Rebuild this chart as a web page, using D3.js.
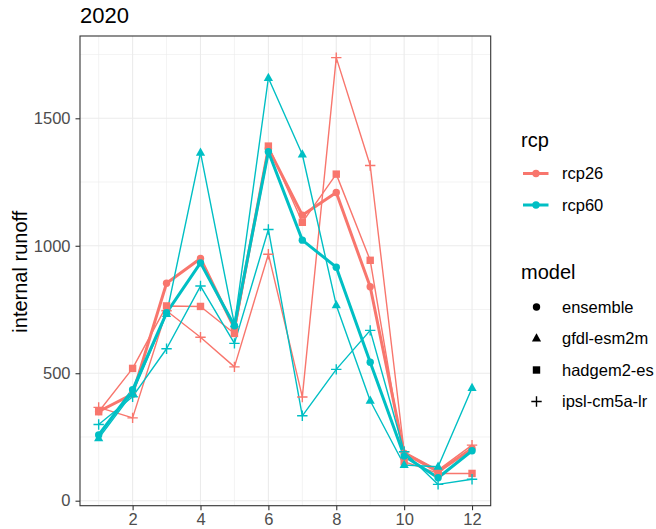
<!DOCTYPE html>
<html>
<head>
<meta charset="utf-8">
<script src="https://cdn.jsdelivr.net/npm/d3@7"></script>
<style>
  html, body { margin: 0; padding: 0; background: #fff; }
  svg { display: block; font-family: "Liberation Sans", Arial, sans-serif; }
</style>
</head>
<body>
<svg id="chart" width="656" height="529"></svg>
<script>
// Monthly internal runoff, 2020, per scenario and climate model
const months = [1, 2, 3, 4, 5, 6, 7, 8, 9, 10, 11, 12];
const rcp26Ensemble = [350, 418, 853, 950, 676, 1382, 1120, 1209, 839, 186, 114, 205];
const rcp26Hadgem   = [349, 519, 764, 762, 656, 1391, 1092, 1281, 943, 153, 107, 107];
const rcp26Ipsl     = [366, 325, 745, 641, 525, 967, 407, 1738, 1315, 192, 120, 218];
const rcp60Ensemble = [258, 435, 737, 933, 686, 1369, 1022, 916, 543, 175, 90, 196];
const rcp60Gfdl     = [245, 422, 732, 1365, 692, 1658, 1358, 767, 392, 140, 133, 442];
const rcp60Ipsl     = [299, 408, 596, 842, 617, 1064, 333, 515, 668, 192, 64, 84];
const xTicks = [2, 4, 6, 8, 10, 12];
const yTicks = [0, 500, 1000, 1500];
const rcpLevels = ["rcp26", "rcp60"];
const modelLevels = ["ensemble", "gfdl-esm2m", "hadgem2-es", "ipsl-cm5a-lr"];

const series = [
  { rcp: "rcp26", model: "ensemble",     values: rcp26Ensemble },
  { rcp: "rcp26", model: "hadgem2-es",   values: rcp26Hadgem },
  { rcp: "rcp26", model: "ipsl-cm5a-lr", values: rcp26Ipsl },
  { rcp: "rcp60", model: "ensemble",     values: rcp60Ensemble },
  { rcp: "rcp60", model: "gfdl-esm2m",   values: rcp60Gfdl },
  { rcp: "rcp60", model: "ipsl-cm5a-lr", values: rcp60Ipsl }
];

const color = d3.scaleOrdinal().domain(rcpLevels).range(["#F8766D", "#00BFC4"]);

const panel = { left: 80, right: 490.7, top: 36, bottom: 505.7 };
const x = d3.scaleLinear().domain([0.45, 12.55]).range([panel.left, panel.right]);
const y = d3.scaleLinear().domain([-19.6, 1822.8]).range([panel.bottom, panel.top]);

const svg = d3.select("#chart");

// panel background and grid
svg.append("rect")
  .attr("x", panel.left).attr("y", panel.top)
  .attr("width", panel.right - panel.left).attr("height", panel.bottom - panel.top)
  .attr("fill", "#fff");

const grid = svg.append("g");
const yMinor = [250, 750, 1250, 1750];
const xMinor = [1, 3, 5, 7, 9, 11];
grid.selectAll(".ymin").data(yMinor).join("line")
  .attr("x1", panel.left).attr("x2", panel.right)
  .attr("y1", d => y(d)).attr("y2", d => y(d))
  .attr("stroke", "#EBEBEB").attr("stroke-width", 0.6);
grid.selectAll(".xmin").data(xMinor).join("line")
  .attr("y1", panel.top).attr("y2", panel.bottom)
  .attr("x1", d => x(d)).attr("x2", d => x(d))
  .attr("stroke", "#EBEBEB").attr("stroke-width", 0.6);
grid.selectAll(".ymaj").data(yTicks).join("line")
  .attr("x1", panel.left).attr("x2", panel.right)
  .attr("y1", d => y(d)).attr("y2", d => y(d))
  .attr("stroke", "#EBEBEB").attr("stroke-width", 1.1);
grid.selectAll(".xmaj").data(xTicks).join("line")
  .attr("y1", panel.top).attr("y2", panel.bottom)
  .attr("x1", d => x(d)).attr("x2", d => x(d))
  .attr("stroke", "#EBEBEB").attr("stroke-width", 1.1);

// lines
const line = d3.line().x((d, i) => x(months[i])).y(d => y(d));
const plot = svg.append("g");
plot.selectAll("path.series").data(series).join("path")
  .attr("class", "series")
  .attr("d", d => line(d.values))
  .attr("fill", "none")
  .attr("stroke", d => color(d.rcp))
  .attr("stroke-width", d => d.model === "ensemble" ? 3 : 1.4)
  .attr("stroke-linejoin", "round");

// point shapes per model
function drawShape(g, model, fill) {
  if (model === "ensemble") {
    g.append("circle").attr("r", 3.7).attr("fill", fill);
  } else if (model === "gfdl-esm2m") {
    g.append("path").attr("d", "M0,-5.2L4.6,3L-4.6,3Z").attr("fill", fill);
  } else if (model === "hadgem2-es") {
    g.append("rect").attr("x", -3.7).attr("y", -3.7).attr("width", 7.4).attr("height", 7.4).attr("fill", fill);
  } else {
    g.append("path").attr("d", "M-5.2,0H5.2M0,-5.2V5.2").attr("stroke", fill).attr("stroke-width", 1.4).attr("fill", "none");
  }
}

series.forEach(s => {
  s.values.forEach((v, i) => {
    const g = plot.append("g").attr("transform", `translate(${x(months[i])},${y(v)})`);
    drawShape(g, s.model, color(s.rcp));
  });
});

// panel border
svg.append("rect")
  .attr("x", panel.left).attr("y", panel.top)
  .attr("width", panel.right - panel.left).attr("height", panel.bottom - panel.top)
  .attr("fill", "none").attr("stroke", "#333333").attr("stroke-width", 1.1);

// axes
const xAxis = d3.axisBottom(x).tickValues(xTicks).tickSize(4.5).tickPadding(3);
const yAxis = d3.axisLeft(y).tickValues(yTicks).tickFormat(d3.format("d")).tickSize(4.5).tickPadding(5);

const gx = svg.append("g").attr("transform", `translate(0,${panel.bottom})`).call(xAxis);
const gy = svg.append("g").attr("transform", `translate(${panel.left},0)`).call(yAxis);
[gx, gy].forEach(g => {
  g.select(".domain").remove();
  g.selectAll(".tick line").attr("stroke", "#333333").attr("stroke-width", 1.1);
  g.selectAll(".tick text").attr("fill", "#4D4D4D").style("font-size", "16.5px")
    .style("font-family", "'Liberation Sans', Arial, sans-serif");
});

// titles
svg.append("text").attr("x", 80).attr("y", 23.3)
  .style("font-size", "22px").attr("fill", "#000").text("2020");
svg.append("text")
  .attr("transform", "translate(26.5,271.7) rotate(-90)")
  .attr("text-anchor", "middle")
  .style("font-size", "20px").attr("fill", "#000").text("internal runoff");

// legend: rcp
const leg = svg.append("g");
leg.append("text").attr("x", 521).attr("y", 147).style("font-size", "20px").text("rcp");
const rcpY = [173.5, 205];
rcpLevels.forEach((r, i) => {
  const g = leg.append("g").attr("transform", `translate(536,${rcpY[i]})`);
  g.append("line").attr("x1", -13).attr("x2", 12.5).attr("stroke", color(r)).attr("stroke-width", 3);
  g.append("circle").attr("r", 3.7).attr("fill", color(r));
  leg.append("text").attr("x", 562).attr("y", rcpY[i]).attr("dy", "0.35em")
    .style("font-size", "16.5px").text(r);
});

// legend: model
leg.append("text").attr("x", 521).attr("y", 279.3).style("font-size", "20px").text("model");
const modelY = [307, 338.5, 370, 401.5];
modelLevels.forEach((m, i) => {
  const g = leg.append("g").attr("transform", `translate(536.5,${modelY[i]})`);
  drawShape(g, m, "#000");
  leg.append("text").attr("x", 562).attr("y", modelY[i]).attr("dy", "0.35em")
    .style("font-size", "16.5px").text(m);
});
</script>
</body>
</html>
